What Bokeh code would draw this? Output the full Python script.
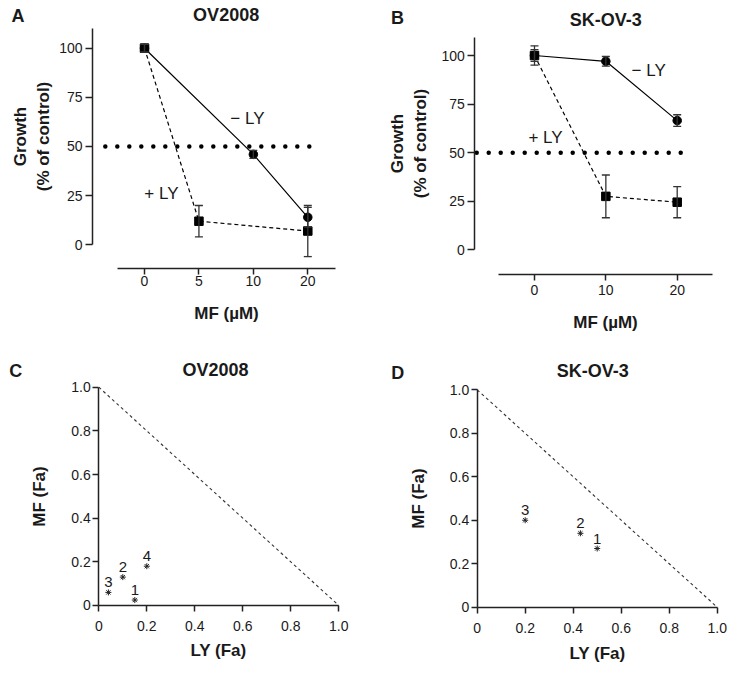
from bokeh.plotting import figure
from bokeh.layouts import column, row
from bokeh.models import (FixedTicker, Whisker, TeeHead, ColumnDataSource, Label,
                          PrintfTickFormatter)
from bokeh.core.properties import value
from bokeh.embed import file_html
from bokeh.resources import INLINE

FONT = "Liberation Sans"
INK = "#1a1a1a"

# ---------------- data ----------------
# Panel A : OV2008 growth (% of control) vs MF dose
a_doses = ["0", "5", "10", "20"]
a_minus_dose = ["0", "10", "20"]
a_minus_mean = [100, 46, 14]
a_minus_err = [2, 2, 5]
a_plus_dose = ["0", "5", "20"]
a_plus_mean = [100, 12, 7]
a_plus_err = [2, 8, 13]

# Panel B : SK-OV-3
b_doses = ["0", "10", "20"]
b_minus_dose = ["0", "10", "20"]
b_minus_mean = [100, 97, 66.5]
b_minus_err = [3, 2.5, 3]
b_plus_dose = ["0", "10", "20"]
b_plus_mean = [100, 27.5, 24.5]
b_plus_err = [5, 11, 8]

growth_ticks = [0, 25, 50, 75, 100]
half_growth = [50, 50]
a_half_x = [-0.72, 3.18]
b_half_x = [-0.81, 2.05]

# Panels C, D : isobologram (fraction affected)
c_ly = [0.15, 0.10, 0.04, 0.20]
c_mf = [0.025, 0.13, 0.06, 0.18]
c_lab = ["1", "2", "3", "4"]
d_ly = [0.50, 0.43, 0.20]
d_mf = [0.27, 0.34, 0.40]
d_lab = ["1", "2", "3"]
fa_ticks = [0, 0.2, 0.4, 0.6, 0.8, 1.0]
additive_ly = [0, 1]
additive_mf = [1, 0]


def style_axis(ax, tick_out=6, label_standoff=2, axis_label_standoff=8):
    ax.axis_line_color = "#222222"
    ax.axis_line_width = 1.5
    ax.major_tick_line_color = "#222222"
    ax.major_tick_line_width = 1.5
    ax.major_tick_in = 0
    ax.major_tick_out = tick_out
    ax.minor_tick_line_color = None
    ax.major_label_standoff = label_standoff
    ax.major_label_text_font = FONT
    ax.major_label_text_font_size = "14px"
    ax.major_label_text_color = INK
    ax.axis_label_standoff = axis_label_standoff
    ax.axis_label_text_font = FONT
    ax.axis_label_text_font_style = "bold"
    ax.axis_label_text_font_size = "17px"
    ax.axis_label_text_color = INK


def add_label(p, x, y, text, size="17px", bold=False):
    p.add_layout(Label(x=x, y=y, text=text, text_font=FONT, text_font_size=size,
                       text_font_style="bold" if bold else "normal", text_color=INK,
                       text_align="center", text_baseline="middle"))


def base_figure(size, xr, yr):
    w, h = size
    p = figure(frame_width=w, frame_height=h, x_range=xr, y_range=yr,
               min_border=0, output_backend="svg", toolbar_location=None, tools="")
    p.grid.visible = False
    p.outline_line_color = None
    return p


def growth_panel(doses, minus, plus, half_x, size, xr, yr, axis_at, ytop,
                 letter, letter_xy, title, title_xy, minus_xy, plus_xy,
                 ylab_standoff, xlab_standoff, xtick_standoff):
    p = base_figure(size, xr, yr)

    # 50 % reference
    p.line(half_x, half_growth, line_color="black", line_width=4.5, line_dash="0 12", line_cap="round")

    for (dose, mean, err), marker, dash in ((minus, "circle", "solid"), (plus, "square", "4 3")):
        xs = [doses.index(d) for d in dose]
        src = ColumnDataSource(dict(x=xs, y=mean,
                                    upper=[m + e for m, e in zip(mean, err)],
                                    lower=[m - e for m, e in zip(mean, err)]))
        p.line("x", "y", source=src, line_color="black", line_width=1.2, line_dash=dash)
        p.add_layout(Whisker(base="x", upper="upper", lower="lower", source=src, dimension="height",
                             line_color="#333333", line_width=1.3, level="glyph",
                             upper_head=TeeHead(size=8, line_color="#333333", line_width=1.3),
                             lower_head=TeeHead(size=8, line_color="#333333", line_width=1.3)))
        p.scatter("x", "y", source=src, marker=marker, size=8.5, fill_color="black", line_color="black")

    xa, ya = p.xaxis[0], p.yaxis[0]
    xa.fixed_location = axis_at[1]
    ya.fixed_location = axis_at[0]
    xa.ticker = FixedTicker(ticks=list(range(len(doses))))
    xa.major_label_overrides = {i: d for i, d in enumerate(doses)}
    xa.bounds = (-0.5, len(doses) - 0.5)
    xa.axis_label = "MF (µM)"
    ya.ticker = FixedTicker(ticks=growth_ticks)
    ya.bounds = (0, ytop)
    ya.axis_label = "Growth\n(% of control)"
    style_axis(xa, tick_out=6, label_standoff=xtick_standoff, axis_label_standoff=xlab_standoff)
    style_axis(ya, tick_out=7, label_standoff=3, axis_label_standoff=ylab_standoff)

    add_label(p, *minus_xy, "− LY")
    add_label(p, *plus_xy, "+ LY")
    add_label(p, *title_xy, title, size="18px", bold=True)
    add_label(p, *letter_xy, letter, size="18px", bold=True)
    return p


def iso_panel(ly, mf, lab, size, xr, yr, letter, letter_xy, title, title_xy, ylab_standoff, xlab_standoff):
    p = base_figure(size, xr, yr)
    p.line(additive_ly, additive_mf, line_color="#333333", line_width=1.1, line_dash="3 3")
    src = ColumnDataSource(dict(x=ly, y=mf, t=lab))
    p.scatter("x", "y", source=src, marker="asterisk", size=6, line_color="#222222", line_width=1.0)
    p.text("x", "y", text="t", source=src, text_font=value(FONT), text_font_size="15px",
           text_color=INK, text_align="center", text_baseline="bottom", y_offset=-5)
    for ax in (p.xaxis[0], p.yaxis[0]):
        ax.fixed_location = 0
        ax.bounds = (0, 1)
        ax.ticker = FixedTicker(ticks=fa_ticks)
        ax.formatter = PrintfTickFormatter(format="%.1f")
        ax.major_label_overrides = {0: "0"}
    p.xaxis.axis_label = "LY (Fa)"
    p.yaxis.axis_label = "MF (Fa)"
    style_axis(p.xaxis[0], tick_out=6, label_standoff=10, axis_label_standoff=xlab_standoff)
    style_axis(p.yaxis[0], tick_out=6, label_standoff=2, axis_label_standoff=ylab_standoff)
    add_label(p, *title_xy, title, size="18px", bold=True)
    add_label(p, *letter_xy, letter, size="18px", bold=True)
    return p


pA = growth_panel(a_doses, (a_minus_dose, a_minus_mean, a_minus_err),
                  (a_plus_dose, a_plus_mean, a_plus_err), a_half_x,
                  size=(370, 344), xr=(-2.6456, 4.1521), yr=(-50.71, 124.26),
                  axis_at=(-0.9554, -12.05), ytop=110,
                  letter="A", letter_xy=(-2.324, 116.6), title="OV2008", title_xy=(1.5, 116.8),
                  minus_xy=(1.89, 64.2), plus_xy=(0.31, 26.1),
                  ylab_standoff=3, xlab_standoff=14, xtick_standoff=2)

pB = growth_panel(b_doses, (b_minus_dose, b_minus_mean, b_minus_err),
                  (b_plus_dose, b_plus_mean, b_plus_err), b_half_x,
                  size=(364, 344), xr=(-2.2985, 2.8031), yr=(-48.74, 128.31),
                  axis_at=(-0.8367, -12.87), ytop=109.3,
                  letter="B", letter_xy=(-1.92, 119.1), title="SK-OV-3", title_xy=(1.0, 118.2),
                  minus_xy=(1.60, 92.3), plus_xy=(0.154, 58.0),
                  ylab_standoff=8, xlab_standoff=15, xtick_standoff=4)

pC = iso_panel(c_ly, c_mf, c_lab, size=(370, 329), xr=(-0.40958, 1.13208), yr=(-0.31150, 1.19560),
               letter="C", letter_xy=(-0.346, 1.073), title="OV2008", title_xy=(0.486, 1.079),
               ylab_standoff=19, xlab_standoff=6)

pD = iso_panel(d_ly, d_mf, d_lab, size=(364, 329), xr=(-0.44458, 1.07208), yr=(-0.30497, 1.20837),
               letter="D", letter_xy=(-0.331, 1.078), title="SK-OV-3", title_xy=(0.481, 1.087),
               ylab_standoff=19, xlab_standoff=7)

layout = column(row(pA, pB), row(pC, pD))
open("out.html", "w").write(file_html(layout, INLINE))
